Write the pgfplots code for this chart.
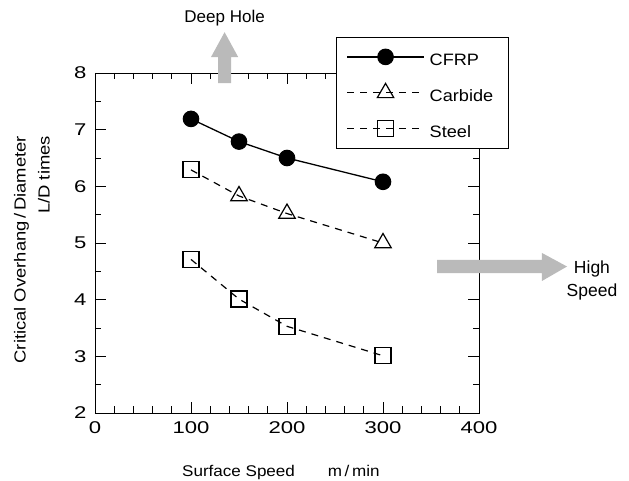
\documentclass[border=0pt]{standalone}
\usepackage{fontspec}
\setmainfont{Liberation Sans}
\newfontfamily\ticksf[FakeStretch=1.3]{Liberation Sans}
\newfontfamily\labsf[FakeStretch=1.1]{Liberation Sans}
\newfontfamily\ylabsf[FakeStretch=1.15]{Liberation Sans}
\usepackage{pgfplots}
\pgfplotsset{compat=1.18}

\begin{document}
\begin{tikzpicture}
\useasboundingbox (-95pt,-68pt) rectangle (534pt,413pt);
\begin{axis}[
    scale only axis,
    width=384pt, height=340pt,
    xmin=0, xmax=400, ymin=2, ymax=8,
    xtick={0,100,200,300,400},
    ytick={2,3,4,5,6,7,8},
    minor x tick num=4,
    minor y tick num=1,
    tick align=inside,
    tick pos=both,
    major tick length=11pt,
    minor tick length=6.5pt,
    tick style={black, line width=0.8pt},
    axis line style={line width=0.8pt},
    /pgf/number format/assume math mode=true,
    tick label style={font=\ticksf\fontsize{17}{17}\selectfont},
    xticklabel style={yshift=-5pt},
    yticklabel style={xshift=-5pt},
    clip=false,
    xlabel={Surface Speed\hspace{33pt}m\,/\,min},
    xlabel style={at={(axis description cs:0.484,0)}, anchor=base,
        yshift=-64pt, inner sep=0pt, font=\labsf\fontsize{15.5}{15.5}\selectfont},
    ylabel={Critical Overhang\,/\,Diameter\\L/D times},
    ylabel style={at={(axis description cs:-0.1172,0.815)}, anchor=south east,
        align=right, inner sep=0pt,
        font=\ylabsf\fontsize{16}{24}\selectfont},
    legend cell align=left,
    legend image code/.code={%
        \draw[#1, mark indices={2}]
        plot coordinates {(0pt,0pt) (38.5pt,0pt) (77pt,0pt)};},
    legend style={at={(axis description cs:0.6276,1.1059)}, anchor=north west,
        draw=black, line width=0.8pt, fill=white,
        inner xsep=10pt, inner ysep=10pt,
        row sep=17pt, column sep=0pt,
        nodes={inner sep=0pt, inner xsep=5pt, text height=18pt, text depth=1pt,
        font=\labsf\fontsize{16.5}{16.5}\selectfont}},
]

% Deep Hole arrow
\fill[black!27] (axis cs:128.2,7.82) -- (axis cs:128.2,8.28) -- (axis cs:120.8,8.28)
  -- (axis cs:135,8.72) -- (axis cs:149.2,8.28) -- (axis cs:141.8,8.28)
  -- (axis cs:141.8,7.82) -- cycle;
\node[font=\fontsize{17}{17}\selectfont] at (axis cs:135,8.97) {Deep Hole};

% High Speed arrow
\fill[black!27] (axis cs:356.3,4.47) -- (axis cs:465.6,4.47) -- (axis cs:465.6,4.33)
  -- (axis cs:491.7,4.585) -- (axis cs:465.6,4.824) -- (axis cs:465.6,4.70)
  -- (axis cs:356.3,4.70) -- cycle;
\node[align=center, font=\fontsize{17.5}{23}\selectfont] at (axis cs:517.7,4.33) {High\\Speed};

\addplot[black, line width=1.3pt, mark=*, mark size=7.8pt,
    mark options={solid, draw=black, fill=black, line width=1pt}]
    coordinates {(100,7.19) (150,6.79) (200,6.50) (300,6.08)};
\addlegendentry{CFRP}

\addplot[black, line width=1.2pt, dash pattern=on 7pt off 6pt,
    mark=triangle, mark size=9.5pt, mark indices={2,3,4},
    mark options={solid, draw=black, fill=white, line width=1.2pt}]
    coordinates {(100,6.29) (150,5.83) (200,5.52) (300,5.00)};
\addlegendentry{Carbide}

\addplot[black, line width=1.2pt, dash pattern=on 7pt off 6pt,
    mark=square, mark size=8pt,
    mark options={solid, draw=black, fill=white, line width=1.2pt}]
    coordinates {(100,4.71) (150,4.01) (200,3.53) (300,3.01)};
\addlegendentry{Steel}

\addplot[black, only marks, mark=square, mark size=8pt, forget plot,
    mark options={solid, draw=black, fill=white, line width=1.2pt}]
    coordinates {(100,6.29)};
\end{axis}
\end{tikzpicture}
\end{document}
